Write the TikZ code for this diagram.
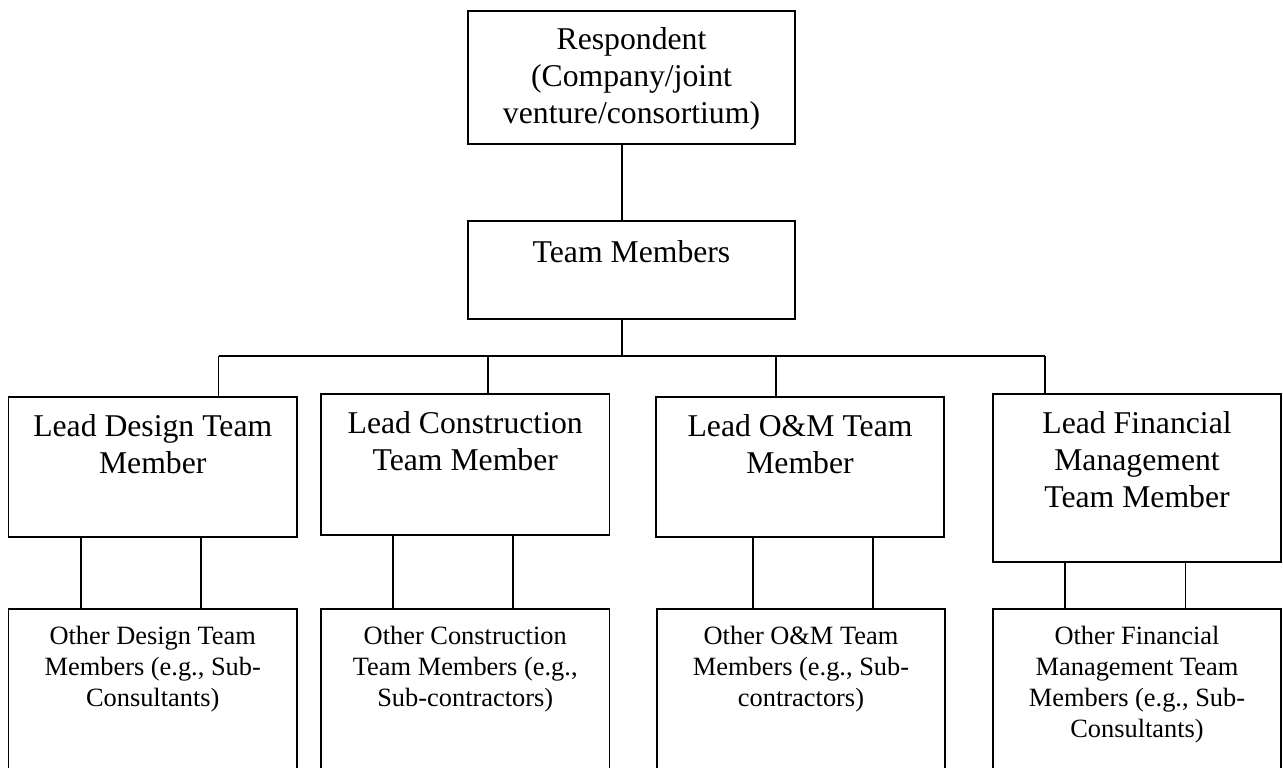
\documentclass[tikz,border=0pt]{standalone}
\usepackage{fontspec}
\setmainfont{Liberation Serif}
\newcommand\bxtext[4]{\parbox[t][#2pt][t]{#1pt}{\centering\vspace*{#3pt}\strut #4\par}}
\tikzset{
  box/.style={draw, line width=1.3pt, inner sep=0pt, outer sep=0pt, anchor=north west},
  big/.style={font=\fontsize{31.7}{37}\selectfont},
  small/.style={font=\fontsize{26.4}{31}\selectfont},
  conn/.style={line width=1.3pt}
}
\begin{document}
\begin{tikzpicture}[x=1pt,y=-1pt]
\useasboundingbox (0,0) rectangle (1283,768);
\clip (0,0) rectangle (1283,768);
% top boxes
\node[box,big] (resp) at (468,11) {\bxtext{327}{133}{13.1}{Respondent\\(Company/joint\\venture/consortium)}};
\node[box,big] (team) at (468,221) {\bxtext{327}{98}{15.1}{Team Members}};
% lead boxes
\node[box,big] (ld) at (8.5,397) {\bxtext{288.5}{140}{13.1}{Lead Design Team\\Member}};
\node[box,big] (lc) at (321,394) {\bxtext{288.5}{141}{13.1}{Lead Construction\\Team Member}};
\node[box,big] (lo) at (656,397) {\bxtext{288}{140}{13.1}{Lead O\&M Team\\Member}};
\node[box,big] (lf) at (993,394) {\bxtext{288}{168}{13.1}{Lead Financial\\Management\\Team Member}};
% other boxes
\node[box,small] (od) at (8.5,609) {\bxtext{288.5}{220}{13.3}{Other Design Team\\Members (e.g., Sub-\\Consultants)}};
\node[box,small] (oc) at (321,609) {\bxtext{288.5}{220}{13.3}{Other Construction\\Team Members (e.g.,\\Sub-contractors)}};
\node[box,small] (oo) at (657,609) {\bxtext{288}{220}{13.3}{Other O\&M Team\\Members (e.g., Sub-\\contractors)}};
\node[box,small] (of) at (993,609) {\bxtext{288}{220}{13.3}{Other Financial\\Management Team\\Members (e.g., Sub-\\Consultants)}};
% connectors
\coordinate (bus) at (622,356);
\coordinate (b1) at (218.5,356);
\coordinate (b2) at (488,356);
\coordinate (b3) at (776,356);
\coordinate (b4) at (1045,356);
\draw[conn] (resp.south -| bus) -- (team.north -| bus);
\draw[conn] (team.south -| bus) -- (bus);
\draw[conn] (b1) -- (b4);
\draw[conn] (b1) -- (b1 |- ld.north);
\draw[conn] (b2) -- (b2 |- lc.north);
\draw[conn] (b3) -- (b3 |- lo.north);
\draw[conn] (b4) -- (b4 |- lf.north);
% lead to other
\foreach \a/\b/\x in {ld/od/81, ld/od/201, lc/oc/393, lc/oc/513, lo/oo/753, lo/oo/873, lf/of/1065, lf/of/1185.5}{
  \draw[conn] (\a.south -| \x,0) -- (\b.north -| \x,0);
}
\end{tikzpicture}
\end{document}
